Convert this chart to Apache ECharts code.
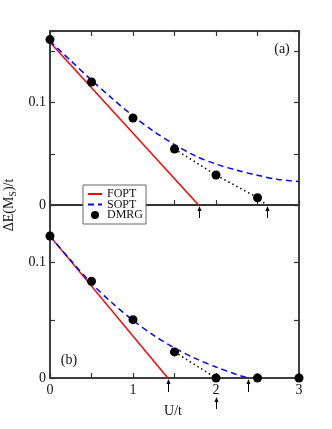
<!DOCTYPE html>
<html>
<head>
<meta charset="utf-8">
<script src="https://cdn.jsdelivr.net/npm/echarts@6/dist/echarts.min.js"></script>
<style>
  html, body { margin: 0; padding: 0; background: #fff; }
  #chart { width: 332px; height: 429px; }
</style>
</head>
<body>
<div id="chart"></div>
<script>
// panel (a)
var foptA = [[0, 0.159], [1.79, 0]];
var soptA = [[0, 0.160], [0.25, 0.141], [0.5, 0.122], [0.75, 0.104], [1, 0.087], [1.25, 0.072],
  [1.5, 0.059], [1.75, 0.048], [2, 0.040], [2.25, 0.034], [2.5, 0.029], [2.75, 0.025], [3, 0.023]];
var dmrgA = [[0, 0.1616], [0.5, 0.1202], [1, 0.085], [1.5, 0.0547], [2, 0.0293], [2.5, 0.0071]];
var extrapA = [[1.5, 0.0547], [2, 0.0293], [2.5, 0.0071], [2.61, 0]];
var arrowsA = [1.79, 2.61];

// panel (b)
var foptB = [[0, 0.123], [1.42, 0]];
var soptB = [[0, 0.123], [0.25, 0.102], [0.5, 0.082], [0.75, 0.065], [1, 0.050], [1.25, 0.037],
  [1.5, 0.026], [1.75, 0.017], [2, 0.0095], [2.25, 0.003], [2.38, 0]];
var dmrgB = [[0, 0.1231], [0.5, 0.0839], [1, 0.0506], [1.5, 0.0226], [2, 0], [2.5, 0], [3, 0]];
var extrapB = [[1.5, 0.0226], [2, 0]];
var arrowsB = [1.42, 2.38];
var arrowsUnder = [2];

var xTickLabels = ['0', '1', '2', '3'];
var yTickLabels = ['0', '0.1'];

var FONT = 'Liberation Serif';
var AX = '#333';

var chart = echarts.init(document.getElementById('chart'));

function tick(len) {
  return { show: true, inside: true, length: len, lineStyle: { color: AX, width: 1.2 } };
}
function xAx(grid, pos, labels) {
  return {
    type: 'value', gridIndex: grid, position: pos, min: 0, max: 3, interval: 0.5,
    axisLine: { show: true, onZero: false, lineStyle: { color: AX, width: 1.5 } },
    axisTick: tick(5),
    splitLine: { show: false },
    axisLabel: {
      show: labels, margin: 5, color: '#111', fontFamily: FONT, fontSize: 14,
      formatter: function (v) {
        var i = xTickLabels.indexOf(String(v));
        return i >= 0 ? xTickLabels[i] : '';
      }
    }
  };
}
function yAx(grid, pos, max, labels) {
  return {
    type: 'value', gridIndex: grid, position: pos, min: 0, max: max, interval: 0.05,
    axisLine: { show: true, onZero: false, lineStyle: { color: AX, width: 1.5 } },
    axisTick: tick(5),
    splitLine: { show: false },
    axisLabel: {
      show: labels, margin: 4, color: '#111', fontFamily: FONT, fontSize: 14,
      formatter: function (v) {
        var s = String(Math.round(v * 100) / 100);
        return yTickLabels.indexOf(s) >= 0 ? s : '';
      }
    }
  };
}

function lineSeries(name, data, xi, yi, color, type, smooth) {
  return {
    name: name, type: 'line', xAxisIndex: xi, yAxisIndex: yi, data: data,
    symbol: 'none', smooth: smooth, clip: false,
    lineStyle: { color: color, width: 1.5, type: type },
    itemStyle: { color: color }, z: 3
  };
}
function dotSeries(data, xi, yi) {
  return {
    name: 'DMRG', type: 'scatter', xAxisIndex: xi, yAxisIndex: yi, data: data,
    symbol: 'circle', symbolSize: 9, clip: false,
    itemStyle: { color: '#000', opacity: 1 }, z: 5
  };
}

var noSymbol = { color: 'transparent', opacity: 0, borderWidth: 0 };

chart.setOption({
  animation: false,
  grid: [
    { left: 50, top: 31, width: 249, height: 174, show: true, borderColor: AX, borderWidth: 1.5 },
    { left: 50, top: 205, width: 249, height: 173, show: true, borderColor: AX, borderWidth: 1.5 }
  ],
  xAxis: [xAx(0, 'bottom', false), xAx(0, 'top', false), xAx(1, 'bottom', true)],
  yAxis: [yAx(0, 'left', 0.17, true), yAx(0, 'right', 0.17, false), yAx(1, 'left', 0.15, true), yAx(1, 'right', 0.15, false)],
  legend: {
    data: [
      { name: 'FOPT', itemStyle: noSymbol },
      { name: 'SOPT', itemStyle: noSymbol },
      { name: 'DMRG' }
    ],
    orient: 'vertical', left: 83, top: 185,
    padding: [3, 3, 3, 4], itemWidth: 14, itemHeight: 8, itemGap: -1.5,
    backgroundColor: '#fff', borderColor: '#666', borderWidth: 1,
    textStyle: { fontFamily: FONT, fontSize: 12, color: '#111' },
    z: 10
  },
  series: [
    lineSeries('FOPT', foptA, 0, 0, '#ff0000', 'solid', false),
    lineSeries('SOPT', soptA, 0, 0, '#0000ff', [6, 4], 0.3),
    lineSeries('extrapA', extrapA, 0, 0, '#000', [1.5, 3], false),
    dotSeries(dmrgA, 0, 0),
    lineSeries('FOPT', foptB, 2, 2, '#ff0000', 'solid', false),
    lineSeries('SOPT', soptB, 2, 2, '#0000ff', [6, 4], 0.3),
    lineSeries('extrapB', extrapB, 2, 2, '#000', [1.5, 3], false),
    dotSeries(dmrgB, 2, 2)
  ]
});

function arrow(xi, yi, u, from, to) {
  var p = chart.convertToPixel({ xAxisIndex: xi, yAxisIndex: yi }, [u, 0]);
  var x = Math.round(p[0]) + 0.5, tip = p[1] + from, tail = p[1] + to;
  return [
    { type: 'line', shape: { x1: x, y1: tip + 3, x2: x, y2: tail }, style: { stroke: '#000', lineWidth: 1 }, z: 20 },
    { type: 'polygon', shape: { points: [[x, tip], [x - 2, tip + 5], [x + 2, tip + 5]] }, style: { fill: '#000' }, z: 20 }
  ];
}

var g = [];
arrowsA.forEach(function (u) { g = g.concat(arrow(0, 0, u, 1, 13)); });
arrowsB.forEach(function (u) { g = g.concat(arrow(2, 2, u, 1, 14)); });
arrowsUnder.forEach(function (u) { g = g.concat(arrow(2, 2, u, 19, 31)); });
g.push(
  { type: 'text', x: 282, y: 49, style: { text: '(a)', font: '14px ' + FONT, fill: '#111', align: 'center', verticalAlign: 'middle' } },
  { type: 'text', x: 69, y: 360, style: { text: '(b)', font: '14px ' + FONT, fill: '#111', align: 'center', verticalAlign: 'middle' } },
  { type: 'text', x: 173, y: 411, style: { text: 'U/t', font: '14px ' + FONT, fill: '#111', align: 'center', verticalAlign: 'middle' } },
  {
    type: 'text', x: 9, y: 205, rotation: Math.PI / 2,
    style: {
      text: 'ΔE(M{s|S})/t', font: '14px ' + FONT, fill: '#111', align: 'center', verticalAlign: 'middle',
      rich: { s: { fontFamily: FONT, fontSize: 10, padding: [8, 0, 0, 0], fill: '#111' } }
    }
  }
);
chart.setOption({ graphic: g });
</script>
</body>
</html>
